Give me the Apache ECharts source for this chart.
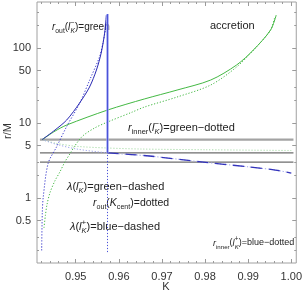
<!DOCTYPE html>
<html><head><meta charset="utf-8">
<script src="https://cdn.jsdelivr.net/npm/echarts@6/dist/echarts.min.js"></script>
<style>html,body{margin:0;padding:0;background:#fff}#c{width:305px;height:295px}</style>
</head><body><div id="c"></div>
<script>
// ---- axes ----
const xRange = [0.941014, 1.001152];
const yRange = [0.13594, 410.6];
const xTicks = [0.95, 0.96, 0.97, 0.98, 0.99, 1.00];
const xMinorTicks = [0.942, 0.944, 0.946, 0.948, 0.952, 0.954, 0.956, 0.958, 0.962, 0.964, 0.966, 0.968,
  0.972, 0.974, 0.976, 0.978, 0.982, 0.984, 0.986, 0.988, 0.992, 0.994, 0.996, 0.998];
const yTicks = [0.5, 1, 5, 10, 50, 100];
const yMinorTicks = [0.2, 0.3, 2, 3, 20, 30, 200, 300];

// ---- reference levels (gray) ----
const grayLevels = [6, 4, 3];
const grayK = [0.9417, 1.0005];

// ---- curves (K, r/M) ----
const greenSolidK = [0.9422, 0.9452, 0.9479, 0.9574, 0.9659, 0.9735, 0.9813, 0.9873, 0.9912, 0.9952, 0.9965];
const greenSolidR = [6.0, 7.8, 9.4, 14.9, 20.9, 27.5, 37.4, 59.3, 94, 174, 275];

const greenDotK = [0.94263, 0.94297, 0.94332, 0.94401, 0.94516, 0.94631, 0.94747, 0.94862, 0.94977, 0.95161,
  0.95438, 0.95737, 0.96313, 0.9659, 0.9735, 0.9813, 0.9873, 0.9919, 0.9952, 0.9961];
const greenDotR = [0.40, 0.59, 0.81, 1.17, 1.69, 2.22, 3.02, 3.86, 4.94, 6.71,
  8.58, 10.3, 14.0, 16.3, 22.2, 32.1, 55.8, 103, 174, 250];

const paleGreenK = [0.9422, 0.9452, 0.9500, 0.9570, 0.9650, 0.9800, 1.0000];
const paleGreenR = [6.0, 5.4, 4.9, 4.65, 4.5, 4.4, 4.3];

const paleBlueK = [0.9422, 0.9455, 0.9502, 0.9574, 0.9671, 0.9786, 0.9901, 0.9963, 1.0000];
const paleBlueR = [6.0, 5.2, 4.5, 4.0, 3.63, 3.05, 2.6, 2.36, 2.15];

const blueDashK = [0.9574, 0.9671, 0.9786, 0.9901, 0.9963, 1.0000];
const blueDashR = [4.0, 3.63, 3.05, 2.6, 2.36, 2.15];

const blueSolidK = [0.9422, 0.9452, 0.9479, 0.9509, 0.9532, 0.9548, 0.9559, 0.9567, 0.9571];
const blueSolidR = [6.0, 8.07, 10.96, 18.5, 30.2, 50.9, 85.8, 158, 275];

const blueDotK = [0.9421, 0.94224, 0.94247, 0.9436, 0.94555, 0.94786, 0.95092, 0.95323, 0.95553, 0.95629, 0.9572];
const blueDotR = [0.2, 0.63, 1.04, 2.9, 4.8, 8.9, 18.4, 37.4, 76.6, 115, 220];

const kCent = 0.95737;
const vertSolidR = [4.0, 283];
const vertDotR = [0.19, 4.0];

// ---- helpers ----
const zip = (a, b) => a.map((v, i) => [v, b[i]]);
const FONT = 'Liberation Sans';
const line = (name, data, color, width, type, extra) => Object.assign({
  name, type: 'line', data, showSymbol: false, symbol: 'none', silent: true,
  lineStyle: { color, width, type }, xAxisIndex: 0, yAxisIndex: 0, animation: false
}, extra || {});
const SM = { smooth: 0.3 };

const series = [];
grayLevels.forEach((lv, i) => {
  series.push(line('gray' + lv, zip(grayK, [lv, lv]), i === 0 ? '#a3a3a3' : '#6c6c6c', i === 0 ? 2.4 : 1.2, 'solid'));
});
series.push(line('paleGreen', zip(paleGreenK, paleGreenR), '#a9dca9', 1, [1.2, 1.8], SM));
series.push(line('paleBlue', zip(paleBlueK, paleBlueR), '#a0a6ec', 1, [1.2, 1.8], SM));
series.push(line('blueDash', zip(blueDashK, blueDashR), '#3333bb', 1.3, [11, 7], SM));
series.push(line('greenSolid', zip(greenSolidK, greenSolidR), '#44b944', 1, 'solid', SM));
series.push(line('greenDot', zip(greenDotK, greenDotR), '#44b944', 1, [1.2, 1.8], SM));
series.push(line('blueDot', zip(blueDotK, blueDotR), '#3434cc', 1, [1.2, 1.8], SM));
series.push(line('blueSolid', zip(blueSolidK, blueSolidR), '#2a2ab4', 1, 'solid', SM));
series.push(line('vertWide', zip([kCent, kCent], vertSolidR), '#9aa0f0', 2.4, 'solid'));
series.push(line('vertThin', zip([kCent, kCent], vertSolidR), '#4a52d8', 1, 'solid'));
series.push(line('vertDot', zip([kCent, kCent], vertDotR), '#4a52d8', 1, [1.2, 1.8]));

// ---- axes (major + minor, mirrored) ----
const TICKC = '#9a9a9a';
function xAx(pos, labels, tickVals, len) {
  return {
    type: 'value', position: pos, min: xRange[0], max: xRange[1],
    axisLine: { show: false }, splitLine: { show: false },
    axisTick: { show: true, inside: true, length: len, customValues: tickVals, lineStyle: { color: TICKC, width: 1 } },
    axisLabel: labels ? { show: true, customValues: xTicks, margin: 8, fontFamily: FONT, fontSize: 11, color: '#333',
      formatter: v => v.toFixed(2) } : { show: false }
  };
}
function yAx(pos, labels, tickVals, len) {
  return {
    type: 'log', logBase: 10, position: pos, min: yRange[0], max: yRange[1],
    axisLine: { show: false }, splitLine: { show: false }, minorTick: { show: false },
    axisTick: { show: true, inside: true, length: len, customValues: tickVals, lineStyle: { color: TICKC, width: 1 } },
    axisLabel: labels ? { show: true, customValues: yTicks, margin: 6, fontFamily: FONT, fontSize: 11, color: '#333',
      formatter: v => String(v) } : { show: false }
  };
}

function mkRich(fs) {
  const sfs = Math.round(fs * 0.68 * 10) / 10;
  return {
    i: { fontStyle: 'italic', fontSize: fs, fontFamily: FONT, lineHeight: fs + 5, fill: '#222' },
    sb: { fontSize: sfs, fontFamily: FONT, lineHeight: sfs + 1.5, verticalAlign: 'bottom', fill: '#222' },
    sbi: { fontSize: sfs, fontStyle: 'italic', fontFamily: FONT, lineHeight: sfs + 1.5, verticalAlign: 'bottom', fill: '#222' },
    sp: { fontSize: sfs + 0.5, fontFamily: FONT, lineHeight: sfs + 1.5, verticalAlign: 'top', width: 0.1, fill: '#222' }
  };
}
function note(x, y, text, fs) {
  fs = fs || 11;
  return { type: 'text', x, y, silent: true, style: {
    text, rich: mkRich(fs), fontFamily: FONT, fontSize: fs, lineHeight: fs + 5, fill: '#222',
    align: 'left', verticalAlign: 'middle', textAlign: 'left', textVerticalAlign: 'middle' } };
}

const chart = echarts.init(document.getElementById('c'), null, { renderer: 'canvas' });
chart.setOption({
  animation: false,
  backgroundColor: '#fff',
  grid: { left: 37, top: 2, width: 261, height: 261, show: true, borderColor: '#a0a0a0', borderWidth: 1, backgroundColor: 'transparent' },
  xAxis: [
    xAx('bottom', true, xTicks, 4),
    xAx('bottom', false, xMinorTicks, 2),
    xAx('top', false, xTicks, 4),
    xAx('top', false, xMinorTicks, 2)
  ],
  yAxis: [
    yAx('left', true, yTicks, 4),
    yAx('left', false, yMinorTicks, 2),
    yAx('right', false, yTicks, 4),
    yAx('right', false, yMinorTicks, 2)
  ],
  series,
  graphic: [
    { type: 'text', x: 8, y: 131, rotation: Math.PI / 2, silent: true,
      style: { text: 'r/M', fontFamily: FONT, fontSize: 11, fill: '#333', align: 'center', verticalAlign: 'middle',
        textAlign: 'center', textVerticalAlign: 'middle' } },
    { type: 'text', x: 166, y: 287, silent: true,
      style: { text: 'K', fontFamily: FONT, fontSize: 11, fill: '#333', align: 'center', verticalAlign: 'middle',
        textAlign: 'center', textVerticalAlign: 'middle' } },
    note(52, 27, '{i|r}{sb|out}({i|l}{sp|−}{sbi|K})=green', 10),
    note(210, 26, 'accretion'),
    note(128, 128, '{i|r}{sb|inner}({i|l}{sp|−}{sbi|K})=green−dotted'),
    note(67, 187, '{i|λ}({i|l}{sp|−}{sbi|K})=green−dashed'),
    note(93, 203, '{i|r}{sb|out}({i|K}{sb|cent})=dotted', 10.5),
    note(70, 227, '{i|λ}({i|l}{sp|+}{sbi|K})=blue−dashed'),
    note(213, 243, '{i|r}{sb|inner}({i|l}{sp|+}{sbi|K})=blue−dotted', 9)
  ]
});
</script></body></html>
